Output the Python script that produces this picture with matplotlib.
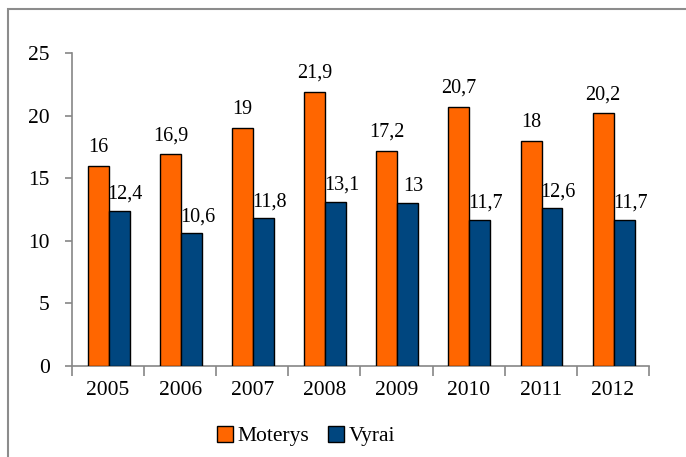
import matplotlib
matplotlib.use('Agg')
import matplotlib.pyplot as plt
from matplotlib.patches import Patch, Rectangle

plt.rcParams['font.family'] = ['Liberation Serif', 'DejaVu Serif']

# Data
years = ['2005', '2006', '2007', '2008', '2009', '2010', '2011', '2012']
moterys = [16, 16.9, 19, 21.9, 17.2, 20.7, 18, 20.2]
vyrai = [12.4, 10.6, 11.8, 13.1, 13, 11.7, 12.6, 11.7]
yticks = [0, 5, 10, 15, 20, 25]

orange = '#FF6600'
blue = '#00467F'
axis_gray = '#868686'

fig = plt.figure(figsize=(6.86, 4.57), dpi=100)
ax = fig.add_axes([0.105, 0.199, 0.841, 0.685])

x = list(range(len(years)))
w = 0.29
shift = 0.01
ax.bar([i - w / 2 + shift for i in x], moterys, width=w, color=orange,
       edgecolor='black', linewidth=1.0, zorder=3)
ax.bar([i + w / 2 + shift for i in x], vyrai, width=w, color=blue,
       edgecolor='black', linewidth=1.0, zorder=3)

# data labels (decimal comma)
fmt = lambda v: f'{v:g}'.replace('.', ',')
for i in x:
    ax.annotate(fmt(moterys[i]), xy=(i - w / 2 + shift, moterys[i]),
                xytext=(0, 14), textcoords='offset pixels',
                ha='center', va='baseline', fontsize=14.5)
    ax.annotate(fmt(vyrai[i]), xy=(i + w / 2 + shift, vyrai[i]),
                xytext=(6, 12), textcoords='offset pixels',
                ha='center', va='baseline', fontsize=14.5)

ax.set_xlim(-0.5, len(years) - 0.5)
ax.set_ylim(0, 25)
ax.set_yticks(yticks)
ax.set_xticks(x)
ax.set_xticklabels(years)
ax.set_xticks([i - 0.5 for i in range(len(years) + 1)], minor=True)
ax.tick_params(axis='x', which='major', length=0, pad=11, labelsize=15.5)
ax.tick_params(axis='x', which='minor', length=7, color=axis_gray, width=1.2)
ax.tick_params(axis='y', length=5, color=axis_gray, width=1.2, pad=11, labelsize=15.5)

for s in ['top', 'right']:
    ax.spines[s].set_visible(False)
for s in ['left', 'bottom']:
    ax.spines[s].set_color(axis_gray)
    ax.spines[s].set_linewidth(1.2)

handles = [Patch(facecolor=orange, edgecolor='black', linewidth=1.0),
           Patch(facecolor=blue, edgecolor='black', linewidth=1.0)]
fig.legend(handles, ['Moterys', 'Vyrai'], loc='center left',
           bbox_to_anchor=(0.30, 0.046), ncol=2, frameon=False, fontsize=15.5,
           handlelength=0.75, handleheight=0.75, handletextpad=0.2,
           columnspacing=0.9, borderpad=0)

# chart area frame (runs off right/bottom edges)
fig.patches.append(Rectangle((7.5 / 686, -0.1), 1.2, 1.1 - 9.5 / 457,
                             transform=fig.transFigure, fill=False,
                             edgecolor='#8c8c8c', linewidth=1.5))

fig.savefig('out.png', dpi=100)
